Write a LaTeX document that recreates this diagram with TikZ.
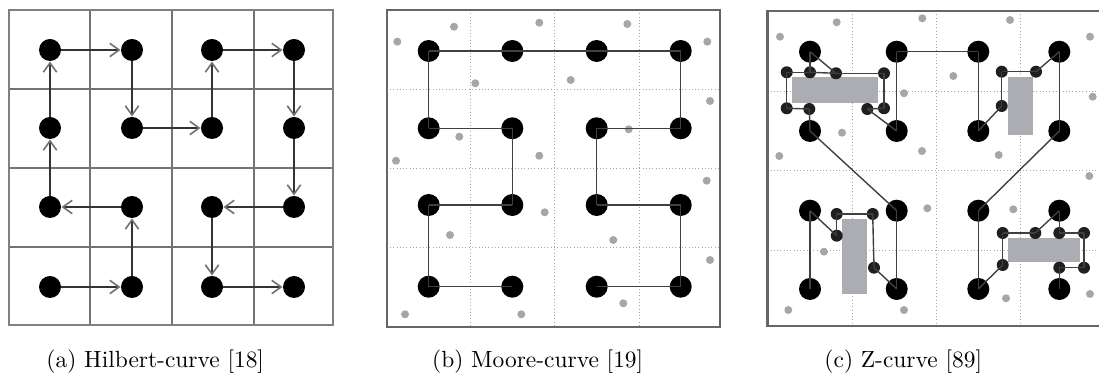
\documentclass[tikz,border=0pt]{standalone}
\usepackage{tikz}
\usetikzlibrary{arrows.meta}
\definecolor{obst}{RGB}{172,173,178}
\tikzset{
  bigdot/.style={circle,fill=black,inner sep=0pt,minimum size=0.33cm},
  smalldot/.style={circle,fill=black!88,inner sep=0pt,minimum size=0.18cm},
  cell/.style={draw=black!55,line width=0.9pt},
  panelframe/.style={draw=black!60,line width=0.7pt},
  grd/.style={draw=black!35,line width=0.4pt,densely dotted},
  hil/.style={draw=black!80,line width=0.6pt,
    -{Straight Barb[length=1.4mm,width=2mm,line width=0.7pt,color=black!55]}},
  crv/.style={draw=black!75,line width=0.6pt},
  sample/.style={fill=black!35},
  captext/.style={anchor=base west,inner sep=0pt},
}
\begin{document}
\begin{tikzpicture}[x=0.015cm,y=-0.015cm]
  \useasboundingbox (0,0) rectangle (1099,385);
  % (a) Hilbert
  \foreach \x in {90,172,254} \draw[cell] (\x,10) -- (\x,325);
  \foreach \y in {89,168,247} \draw[cell] (9,\y) -- (333,\y);
  \draw[cell,line width=1.1pt,draw=black!50] (9,10) rectangle (333,325);
  \foreach \x [count=\i from 0] in {50,132,212,294}
    \foreach \y [count=\j from 0] in {50,128,207,287}
      \node[bigdot] (a\i\j) at (\x,\y) {};
  \foreach \s/\t in {03/13,13/12,12/02,02/01,01/00,00/10,10/11,11/21,
                     21/20,20/30,30/31,31/32,32/22,22/23,23/33}
    \draw[hil] (a\s) -- (a\t);

  % (b) Moore
  \foreach \x in {470.7,554.3,639} \draw[grd] (\x,10) -- (\x,327);
  \foreach \y in {89,168.3,247.7} \draw[grd] (386.7,\y) -- (720,\y);
  \draw[panelframe] (386.7,10) rectangle (720,327);
  \foreach \x/\y in {454/26.7,539.3/22.7,627.3/24,397.3/41.7,707.3/41.7,
      475.3/83.3,570.7/80,710/101,459.3/136.7,628.7/129.3,396/160.7,
      539.3/155.7,706.7/180.7,544.7/212.3,450/235,613.3/240,710/260,
      623.3/303.3,405/314.3,521.3/314.3}
    \fill[sample] (\x,\y) circle (4);
  \foreach \x [count=\i from 0] in {428.7,512.3,596.7,680.7}
    \foreach \y [count=\j from 0] in {51,128.3,205,286.7}
      \node[bigdot] (b\i\j) at (\x,\y) {};
  \foreach \s/\t in {13/03,03/02,02/12,12/11,11/01,01/00,00/10,10/20,
                     20/30,30/31,31/21,21/22,22/32,32/33,33/23}
    \draw[crv] (b\s.center) -- (b\t.center);

  % (c) Z-curve
  \foreach \x in {852.3,936.7,1020.7} \draw[grd] (\x,11) -- (\x,326);
  \foreach \y in {91,170.7,250} \draw[grd] (767.3,\y) -- (1104,\y);
  \draw[panelframe] (767.3,11) rectangle (1104,326);
  \draw[panelframe,line width=1.1pt] (767.3,11) -- (767.3,326);
  \foreach \x/\y in {836.7/22.3,922.3/18.3,1010/20,780/36.7,1090/36.7,
      953.3/76,904/93.3,1092.7/96.7,842/132.7,922/151,998.7/155,779.3/156,
      1089.3/176,927.3/208.3,1013.3/209.3,824/251.7,1006/298.3,1090/294,
      788.3/310,904/310}
    \fill[sample] (\x,\y) circle (4);
  \fill[obst] (792.3,77.3) rectangle (878.3,103.3);
  \fill[obst] (1007.7,77.3) rectangle (1032.7,135);
  \fill[obst] (842.3,219.3) rectangle (867.3,294);
  \fill[obst] (1008.3,238.3) rectangle (1080,261.7);
  \foreach \x [count=\i from 0] in {810,896.7,978.3,1059.3}
    \foreach \y [count=\j from 0] in {51.7,131,210.7,289}
      \node[bigdot] (c\i\j) at (\x,\y) {};
  % detours round the obstacles
  \foreach \n/\x/\y in {p1/786.7/72.3,p2/810/72.3,p3/836/73.3,p4/884/73.3,
      p5/786.7/108.3,p6/809.3/109,p7/867.3/109,p8/884/108.3,
      q1/1001.7/71.7,q2/1036/71.7,q3/1001.7/106,
      r1/836.7/214,r2/872.7/214,r3/836.7/235.7,r4/874/267.7,
      s1/1002.7/233,s2/1035.3/233,s3/1059.3/233,s4/1084/233,
      s5/1002.7/265,s6/1059.3/267.7,s7/1084/267.7}
    \node[smalldot] (\n) at (\x,\y) {};
  \foreach \s/\t in {c00/p2,c00/p3,p1/p2,p2/p3,p3/p4,p1/p5,p5/p6,p6/c01,
      p4/p8,p8/p7,p7/c11,c10/c11,c10/c20,c01/c12,
      c20/c21,c30/q2,q2/q1,q1/q3,q3/c21,c30/c31,c31/c22,
      c02/c03,c02/r3,r3/r1,r1/r2,r2/r4,r4/c13,c12/c13,
      c22/c23,c32/s2,s2/s1,s1/s5,s5/c23,c32/s3,s3/s4,s4/s7,s7/s6,s6/c33}
    \draw[crv] (\s.center) -- (\t.center);

  \node[captext] (capa) at (46,368) {(a) Hilbert-curve [18]};
  \node[captext] (capb) at (431.7,368) {(b) Moore-curve [19]};
  \node[captext] (capc) at (824,368) {(c) Z-curve [89]};
\end{tikzpicture}
\end{document}
